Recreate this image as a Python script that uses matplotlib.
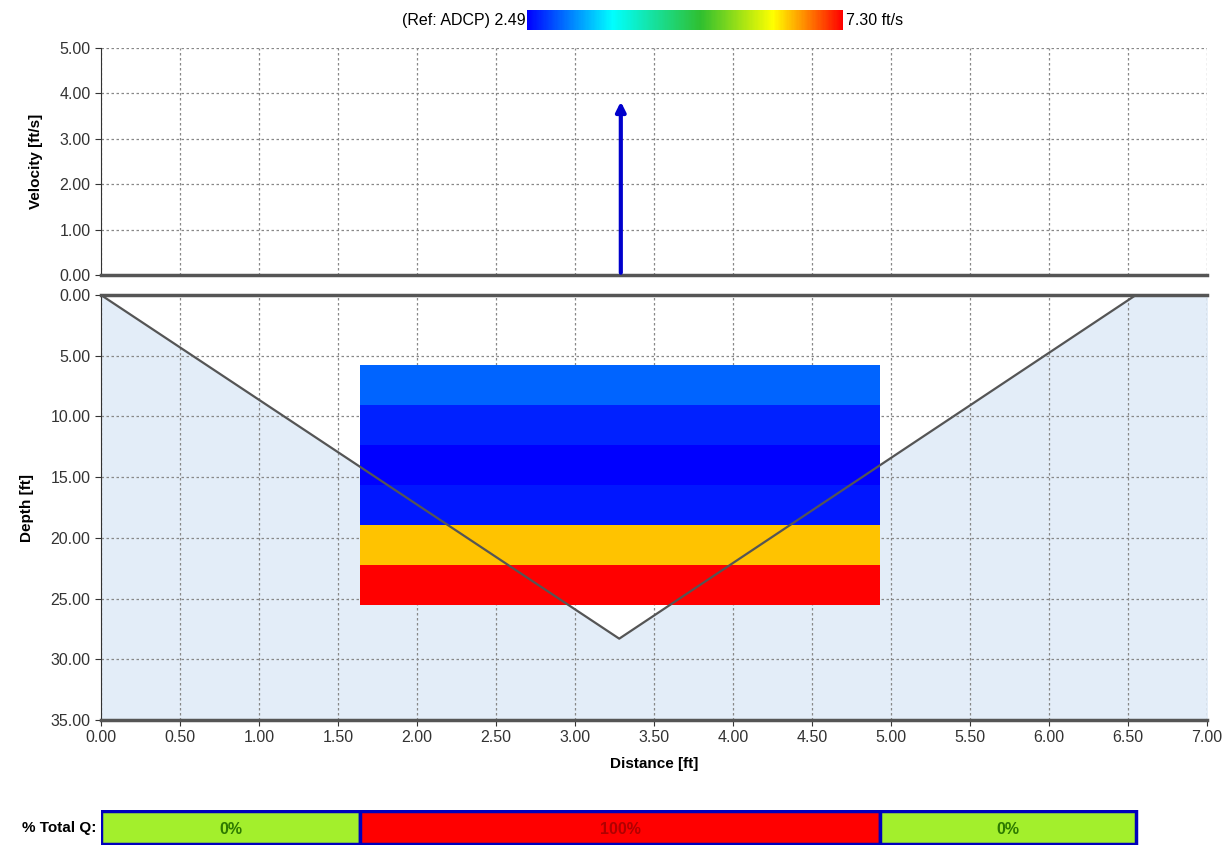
import numpy as np
import matplotlib
matplotlib.use("Agg")
import matplotlib.pyplot as plt
from matplotlib.colors import LinearSegmentedColormap, Normalize
from matplotlib.cm import ScalarMappable

plt.rcParams['font.family'] = ['Liberation Sans Narrow', 'Liberation Sans', 'DejaVu Sans']

# kesit verisi (istasyon / derinlik)
bed_x = [0.0, 3.28, 6.55, 7.0]
bed_depth = [0.0, 28.3, 0.0, 0.0]

# hucre verisi
cell_x = [1.64, 4.93]
cell_depths = [5.77, 9.06, 12.35, 15.64, 18.93, 22.22, 25.5]
cell_vel = [3.01, 2.66, 2.49, 2.62, 6.48, 7.30]

# ortalama hiz
mean_x = 3.29
mean_v = 3.82

vmin, vmax = 2.49, 7.30

# % Total Q
q_edges = [0.0, 1.64, 4.93, 6.55]
q_pct = [0, 100, 0]
q_colors = ['#a3ef2c', '#ff0000', '#a3ef2c']
q_text_colors = ['#2d7a00', '#b00000', '#2d7a00']

cmap = LinearSegmentedColormap.from_list(
    'adcp', [(0.0, '#0000ff'), (0.27, '#00ffff'), (0.55, '#2fbf2f'),
             (0.78, '#ffff00'), (1.0, '#ff0000')])
norm = Normalize(vmin, vmax)

fig = plt.figure(figsize=(12.3, 8.47), dpi=100)
L, W = 0.0821, 0.8992

ax_v = fig.add_axes([L, 0.6753, W, 0.2680])
ax_d = fig.add_axes([L, 0.1499, W, 0.5018])
cax = fig.add_axes([0.4285, 0.9646, 0.2569, 0.0236])
ax_q = fig.add_axes([L, 0.0024, W, 0.0413])

grid_kw = dict(color='#888888', linestyle=(0, (2, 2)), linewidth=0.9)
xt = np.arange(0, 7.01, 0.5)

# hiz paneli
ax_v.set_xlim(0, 7)
ax_v.set_ylim(0, 5)
ax_v.set_xticks(xt)
ax_v.set_yticks(np.arange(0, 5.01, 1))
ax_v.set_yticklabels([f'{v:.2f}' for v in np.arange(0, 5.01, 1)])
ax_v.grid(True, **grid_kw)
for s in ['top', 'right']:
    ax_v.spines[s].set_visible(False)
ax_v.spines['bottom'].set_linewidth(2.5)
ax_v.spines['bottom'].set_color('#555555')
ax_v.spines['left'].set_color('#333333')
ax_v.set_ylabel('Velocity [ft/s]', fontweight='bold', fontsize=11, labelpad=12)
ax_v.annotate('', xy=(mean_x, mean_v), xytext=(mean_x, 0.05),
              arrowprops=dict(arrowstyle='-|>', color='#0000cc', lw=3,
                              mutation_scale=14, shrinkA=0, shrinkB=0))

# derinlik paneli
ax_d.set_xlim(0, 7)
ax_d.set_ylim(35, 0)
ax_d.fill_between(bed_x, bed_depth, 35, color='#e3edf8', zorder=0)
X, Y = np.meshgrid(cell_x, cell_depths)
C = np.array(cell_vel).reshape(-1, 1)
ax_d.pcolormesh(X, Y, C, cmap=cmap, norm=norm, zorder=2)
ax_d.plot(bed_x, bed_depth, color='#555555', lw=1.6, zorder=3)
ax_d.set_xticks(xt)
ax_d.set_xticklabels([f'{v:.2f}' for v in xt])
ax_d.set_yticks(np.arange(0, 35.01, 5))
ax_d.set_yticklabels([f'{v:.2f}' for v in np.arange(0, 35.01, 5)])
ax_d.grid(True, zorder=1, **grid_kw)
ax_d.set_axisbelow(True)
ax_d.spines['right'].set_visible(False)
for s in ['top', 'bottom']:
    ax_d.spines[s].set_linewidth(2.5)
    ax_d.spines[s].set_color('#555555')
ax_d.spines['left'].set_color('#333333')
ax_d.set_ylabel('Depth [ft]', fontweight='bold', fontsize=11, labelpad=12)
ax_d.set_xlabel('Distance [ft]', fontweight='bold', fontsize=11, labelpad=8)

for a in (ax_v, ax_d):
    a.tick_params(labelsize=11.5, labelcolor='#333333', color='#333333', length=4)
ax_v.tick_params(axis='x', length=0, labelbottom=False)

# renk skalasi
cb = fig.colorbar(ScalarMappable(norm=norm, cmap=cmap), cax=cax, orientation='horizontal')
cb.set_ticks([])
cb.outline.set_visible(False)
fig.text(0.4270, 0.976, f'(Ref: ADCP) {vmin:.2f}', ha='right', va='center', fontsize=11.5)
fig.text(0.6880, 0.976, f'{vmax:.2f} ft/s', ha='left', va='center', fontsize=11.5)

# % Total Q cubugu
ax_q.set_xlim(0, 7)
ax_q.set_ylim(0, 1)
ax_q.axis('off')
for i in range(len(q_pct)):
    x0, x1 = q_edges[i], q_edges[i + 1]
    ax_q.add_patch(plt.Rectangle((x0, 0.03), x1 - x0, 0.94, facecolor=q_colors[i],
                                 edgecolor='#0000bb', lw=2.5))
    ax_q.text((x0 + x1) / 2, 0.45, f'{q_pct[i]}%', ha='center', va='center',
              fontweight='bold', fontsize=11.5, color=q_text_colors[i])
fig.text(0.0780, 0.0230, '% Total Q:', ha='right', va='center', fontweight='bold', fontsize=11)

fig.savefig('out.png', dpi=100)
